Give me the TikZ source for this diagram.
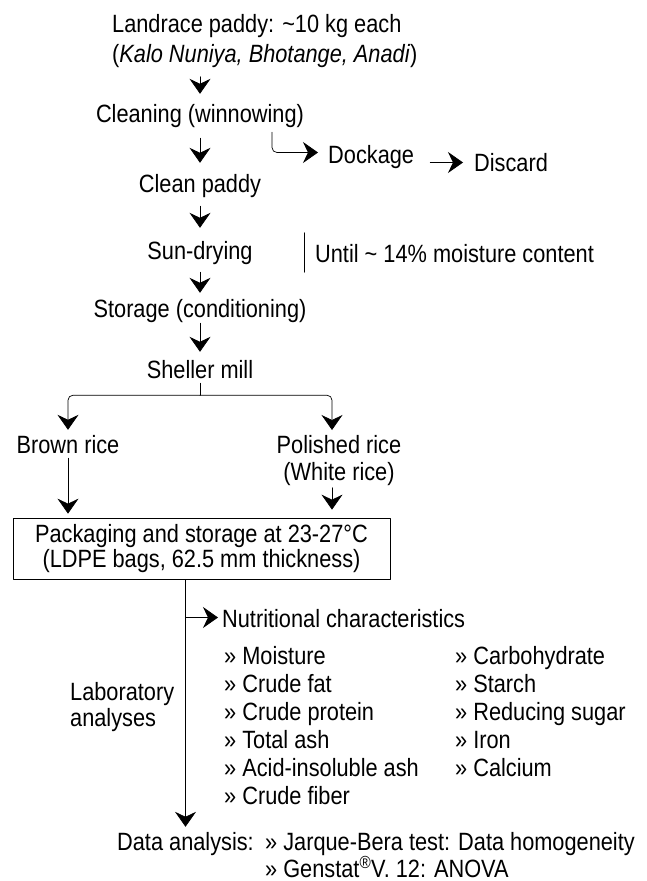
\documentclass[tikz,border=0pt]{standalone}
\usepackage{fontspec}
\setmainfont{Liberation Sans}[FakeStretch=0.87]
\usepackage{tikz}
\usetikzlibrary{arrows.meta,calc,positioning}

\begin{document}
\begin{tikzpicture}[x=1pt,y=-1pt,line cap=round,line join=round,
  font=\fontsize{25}{28}\selectfont,
  lbl/.style={inner sep=0pt,text height=18pt,text depth=5pt},
  blk/.style={inner sep=0pt,align=left},
  flow/.style={-{Stealth[length=15pt,width=21pt,inset=5pt]},line width=0.7pt},
  down/.style={flow,shorten <=9pt,shorten >=10pt}]
\useasboundingbox (0,0) rectangle (646,881);
% Hauptstrang: Rohreis bis Schaelmuehle
\node[blk,anchor=north west,font=\fontsize{25}{30}\selectfont] (paddy) at (112,14)
 {Landrace paddy: \textasciitilde10 kg each\\(\textit{Kalo Nuniya, Bhotange, Anadi})};
\node[lbl,anchor=base] (clean) at (200,122) {Cleaning (winnowing)};
\node[lbl,anchor=base west] (dock) at (328,163) {Dockage};
\node[lbl,anchor=base west] (discard) at (474,171) {Discard};
\node[lbl,anchor=base] (cpaddy) at (200,192) {Clean paddy};
\node[lbl,anchor=base] (sun) at (200,259) {Sun-drying};
\node[lbl,anchor=base west] (until) at (315,262) {Until \textasciitilde{} 14\% moisture content};
\node[lbl,anchor=base] (store) at (200,317) {Storage (conditioning)};
\node[lbl,anchor=base] (sheller) at (200,378) {Sheller mill};
\draw[down] (paddy.south -| clean.north) -- (clean.north);
\draw[down,shorten <=11pt,shorten >=11pt] (clean) -- (cpaddy);
\draw[down,shorten >=13pt] (cpaddy) -- (sun);
\draw[down,shorten <=8pt,shorten >=6pt] (sun) -- (store);
\draw[down,shorten <=1pt,shorten >=8pt] (store) -- (sheller);
\draw[flow,rounded corners=5pt,shorten >=10pt]
 ([shift={(72pt,-5pt)}]clean.south) |- ([yshift=4pt]dock.west);
\draw[flow,shorten <=16pt,shorten >=11pt] ([yshift=2pt]dock.east |- discard.west)
 -- ([yshift=2pt]discard.west);
\draw[line width=0.7pt] ([shift={(-11pt,11pt)}]until.north west)
 -- ([shift={(-11pt,-5pt)}]until.south west);
% Verzweigung
\node[lbl,anchor=base] (brown) at (68,453) {Brown rice};
\node[blk,anchor=north,align=center,font=\fontsize{25}{27}\selectfont] (polish) at (339,435)
 {Polished rice\\(White rice)};
\draw[line width=0.7pt] (sheller.south) -- ++(0,12) coordinate (fork);
\draw[flow,rounded corners=5pt,shorten >=5pt] (fork) -| (brown.north);
\draw[flow,rounded corners=5pt,shorten >=5pt] (fork) -| ([xshift=-7pt]polish.north);
\node[draw,line width=0.7pt,inner sep=0pt,minimum width=377pt,minimum height=61pt,
 align=center,font=\fontsize{25}{25}\selectfont] (pack) at (201.5,548.5)
 {Packaging and storage at 23-27°C\\(LDPE bags, 62.5 mm thickness)};
\draw[flow,shorten >=4pt] (brown.south) -- (brown.south |- pack.north);
\draw[flow,shorten <=2pt,shorten >=8pt] ([xshift=-7pt]polish.south)
 -- ([xshift=-7pt]polish.south |- pack.north);
% Laboranalysen
\node[lbl,anchor=base west] (nutri) at (222,627) {Nutritional characteristics};
\node[blk,anchor=north west] (listA) at (224,646)
 {» Moisture\\» Crude fat\\» Crude protein\\» Total ash\\» Acid-insoluble ash\\» Crude fiber};
\node[blk,anchor=north west] (listB) at (455,646)
 {» Carbohydrate\\» Starch\\» Reducing sugar\\» Iron\\» Calcium};
\node[blk,anchor=north west,font=\fontsize{25}{26}\selectfont] (lab) at (70,682)
 {Laboratory\\analyses};
\node[lbl,anchor=base west] (data) at (117,850) {Data analysis:};
\node[blk,anchor=north west,font=\fontsize{25}{27}\selectfont] (stats) at (265,832)
 {» Jarque-Bera test: Data homogeneity\\» Genstat\textsuperscript{®}V. 12: ANOVA};
\draw[flow,shorten >=5pt] (pack.south -| data.north) -- (data.north);
\draw[flow,shorten >=4pt] ([yshift=3pt]data.north |- nutri.west) -- ([yshift=3pt]nutri.west);
\end{tikzpicture}
\end{document}
